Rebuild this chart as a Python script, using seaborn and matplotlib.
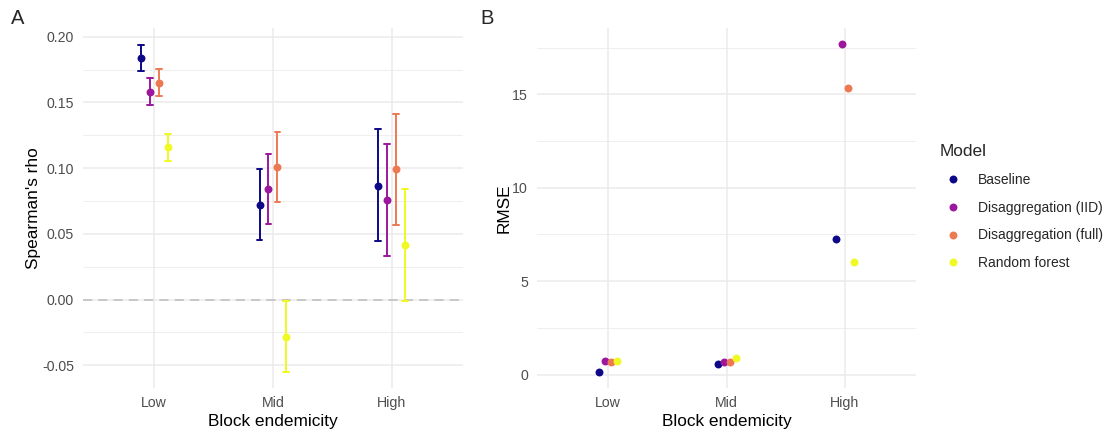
import numpy as np
import pandas as pd
import seaborn as sns
import matplotlib.pyplot as plt
from matplotlib.lines import Line2D

# Categories
levels = ["Low", "Mid", "High"]
models = ["Baseline", "Disaggregation (IID)", "Disaggregation (full)", "Random forest"]
palette = ["#0D0887", "#9C179E", "#ED7953", "#F0F921"]

# Spearman's rho per model across Low / Mid / High endemicity blocks
rho_est = {
    "Baseline":              [0.184, 0.0723, 0.0867],
    "Disaggregation (IID)":  [0.158, 0.0839, 0.0759],
    "Disaggregation (full)": [0.165, 0.1011, 0.0991],
    "Random forest":         [0.116, -0.0284, 0.0412],
}
rho_lower = {
    "Baseline":              [0.174, 0.0455, 0.0445],
    "Disaggregation (IID)":  [0.148, 0.0571, 0.0334],
    "Disaggregation (full)": [0.155, 0.0744, 0.0566],
    "Random forest":         [0.1057, -0.0549, -0.0013],
}
rho_upper = {
    "Baseline":              [0.194, 0.0991, 0.1295],
    "Disaggregation (IID)":  [0.1684, 0.1105, 0.1184],
    "Disaggregation (full)": [0.1755, 0.1277, 0.1414],
    "Random forest":         [0.126, -0.001, 0.0839],
}

# RMSE per model across Low / Mid / High endemicity blocks
rmse = {
    "Baseline":              [0.16, 0.55, 7.28],
    "Disaggregation (IID)":  [0.73, 0.68, 17.67],
    "Disaggregation (full)": [0.66, 0.68, 15.32],
    "Random forest":         [0.73, 0.87, 6.00],
}

# Long tables: each rho group holds lower / estimate / upper so the
# median gives the point and the min/max give the interval
rho_rows = []
for m in models:
    for i, lev in enumerate(levels):
        for v in (rho_lower[m][i], rho_est[m][i], rho_upper[m][i]):
            rho_rows.append({"Model": m, "level": lev, "value": v})
rho_df = pd.DataFrame(rho_rows)

rmse_df = pd.DataFrame(
    [{"Model": m, "level": lev, "value": rmse[m][i]}
     for m in models for i, lev in enumerate(levels)]
)

sns.set_theme(style="white")
plt.rcParams["font.family"] = ["Liberation Sans", "DejaVu Sans"]

fig = plt.figure(figsize=(11.09, 4.32), dpi=100)
ax1 = fig.add_axes([0.0748, 0.1019, 0.3427, 0.8333])
ax2 = fig.add_axes([0.4842, 0.1019, 0.3418, 0.8333])

grid_major = "#EBEBEB"
tick_col = "#4D4D4D"
tick_size = 10.2
title_size = 12.4
marker_size = 5.7


def style_axis(ax, ylim, major, minor, fmt):
    ax.set_xlim(-0.6, 2.6)
    ax.set_ylim(*ylim)
    ax.set_yticks(major)
    ax.set_yticks(minor, minor=True)
    ax.set_yticklabels([fmt(v) for v in major])
    ax.set_xticks(range(len(levels)))
    ax.set_xticklabels(levels)
    ax.grid(False)
    for v in major:
        ax.axhline(v, color=grid_major, lw=1.1, zorder=0)
    for v in minor:
        ax.axhline(v, color=grid_major, lw=0.6, zorder=0)
    for i in range(len(levels)):
        ax.axvline(i, color=grid_major, lw=1.1, zorder=0)
    for s in ax.spines.values():
        s.set_visible(False)
    ax.tick_params(axis="y", length=0, labelsize=tick_size,
                   labelcolor=tick_col, pad=6.5)
    ax.tick_params(axis="x", length=0, labelsize=tick_size,
                   labelcolor=tick_col, pad=5.5)
    ax.set_xlabel("Block endemicity", fontsize=title_size, color="black",
                  labelpad=3.5)


# Panel A: Spearman's rho with intervals
sns.pointplot(
    data=rho_df, x="level", y="value", hue="Model",
    order=levels, hue_order=models, palette=palette,
    estimator="median", errorbar=lambda v: (v.min(), v.max()),
    dodge=0.227, linestyle="none", markers="o", markersize=marker_size,
    markeredgewidth=0, capsize=0.05, err_kws={"linewidth": 1.4},
    legend=False, ax=ax1,
)
ax1.axhline(0, color="#BDBDBD", lw=1.1, ls=(0, (6, 4)), zorder=1)
style_axis(
    ax1, (-0.0673, 0.2066),
    [-0.05, 0.0, 0.05, 0.10, 0.15, 0.20],
    [-0.025, 0.025, 0.075, 0.125, 0.175],
    lambda v: f"{v:.2f}",
)
ax1.set_ylabel("Spearman's rho", fontsize=title_size, color="black",
               labelpad=0.5)

# Panel B: RMSE
sns.pointplot(
    data=rmse_df, x="level", y="value", hue="Model",
    order=levels, hue_order=models, palette=palette,
    errorbar=None, dodge=0.152, linestyle="none", markers="o",
    markersize=marker_size, markeredgewidth=0, legend=False, ax=ax2,
)
style_axis(
    ax2, (-0.72, 18.55),
    [0, 5, 10, 15],
    [2.5, 7.5, 12.5, 17.5],
    lambda v: f"{v:g}",
)
ax2.set_ylabel("RMSE", fontsize=title_size, color="black", labelpad=0.5)

# Panel tags
fig.text(0.010, 0.958, "A", fontsize=14.5, va="center", ha="left")
fig.text(0.4335, 0.958, "B", fontsize=14.5, va="center", ha="left")

# Legend
handles = [Line2D([], [], marker="o", ls="none", color=c,
                  markersize=marker_size, markeredgewidth=0)
           for c in palette]
leg = fig.legend(
    handles, models, title="Model", loc="upper left",
    bbox_to_anchor=(0.842, 0.680), frameon=False,
    fontsize=10, title_fontsize=title_size, labelspacing=1.0,
    handletextpad=0.8, alignment="left", borderaxespad=0,
)

fig.savefig("out.png", dpi=100, facecolor="white")
